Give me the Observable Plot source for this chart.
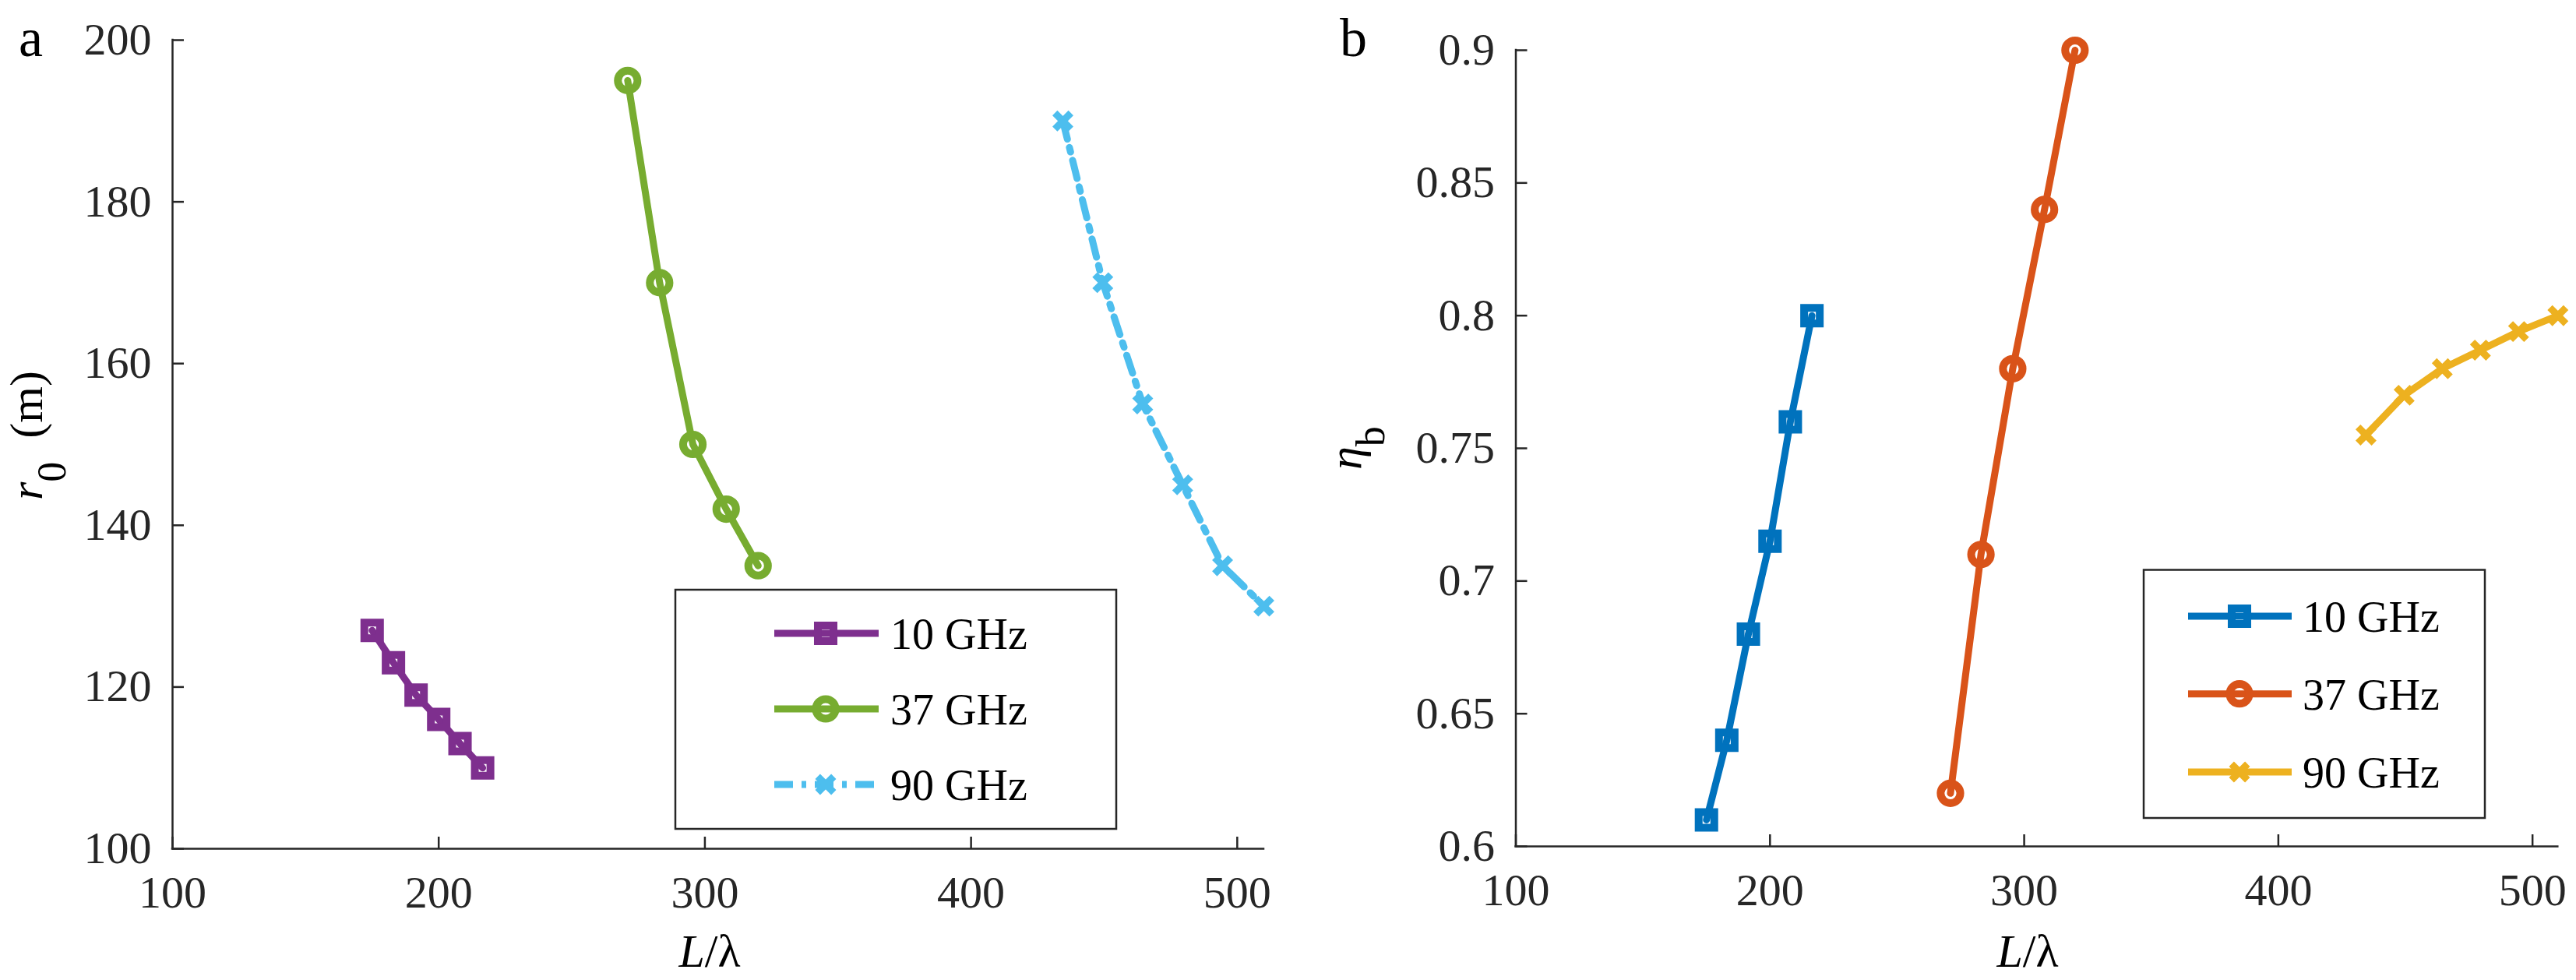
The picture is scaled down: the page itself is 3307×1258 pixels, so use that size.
<!DOCTYPE html>
<html>
<head>
<meta charset="utf-8">
<script src="https://cdn.jsdelivr.net/npm/d3@7"></script>
<script src="https://cdn.jsdelivr.net/npm/@observablehq/plot@0.6"></script>
<style>
  html, body { margin: 0; padding: 0; background: #fff; }
  #wrap { position: relative; width: 3307px; height: 1258px; overflow: hidden; background: #fff; }
  #wrap svg { position: absolute; left: 0; top: 0; }
  #wrap svg, #wrap svg text {
    font-family: 'Liberation Serif', 'Times New Roman', Times, 'Nimbus Roman', 'Nimbus Roman No9 L',
                 'FreeSerif', 'Noto Serif', 'DejaVu Serif', 'Noto Serif CJK SC', serif !important; }
</style>
</head>
<body>
<div id="wrap"></div>
<script>
// ---------- data ----------
const seriesNames = ["10 GHz", "37 GHz", "90 GHz"];
const xTicks = [100, 200, 300, 400, 500];
const r0Ticks = [100, 120, 140, 160, 180, 200];
const etaTicks = [0.6, 0.65, 0.7, 0.75, 0.8, 0.85, 0.9];

const L10 = [175, 183, 191.5, 200, 208, 216.5];
const L37 = [271, 283, 295.5, 308, 320];
const L90 = [434.5, 449.5, 464.5, 479.5, 494.5, 510];

const r0_10 = [127, 123, 119, 116, 113, 110];
const r0_37 = [195, 170, 150, 142, 135];
const r0_90 = [190, 170, 155, 145, 135, 130];

const eta_10 = [0.61, 0.64, 0.68, 0.715, 0.76, 0.80];
const eta_37 = [0.62, 0.71, 0.78, 0.84, 0.90];
const eta_90 = [0.755, 0.77, 0.78, 0.787, 0.794, 0.80];

const colorsA = ["#7E2F8E", "#77AC30", "#4DBEEE"];
const colorsB = ["#0072BD", "#D95319", "#EDB120"];

// ---------- styles ----------
const W = 3307, H = 1258;
const AX = "#262626";
const symbols = ["square", "circle", "times"];
const symR = [11.3, 12.6, 9.4];
const symSW = [10, 10, 9];
const LW = 9;
const DASH = "24,11,6,11";

const Ls = [L10, L37, L90];

function makePanel({ml, mr, mt, mb, yDomain, yTicks, ys, colors, dashes}) {
  const plotH = H - mt - mb, plotW = W - ml - mr;
  const marks = [
    Plot.ruleY([yDomain[0]], {stroke: AX, strokeWidth: 2.5, strokeLinecap: "square"}),
    Plot.ruleX([xTicks[0]], {stroke: AX, strokeWidth: 2.5, strokeLinecap: "square"}),
    Plot.tickX(xTicks, {x: d => d, insetTop: plotH - 15, stroke: AX, strokeWidth: 2.5}),
    Plot.tickY(yTicks, {y: d => d, insetRight: plotW - 15, stroke: AX, strokeWidth: 2.5}),
    Plot.axisX({ticks: xTicks, tickSize: 0, tickPadding: 34, fontSize: 58, label: null,
                fill: AX, tickFormat: d => String(d)}),
    Plot.axisY({ticks: yTicks, tickSize: 0, tickPadding: 27, fontSize: 58, label: null,
                fill: AX, tickFormat: d => String(d)})
  ];
  for (let i = 0; i < 3; i++) {
    const data = Ls[i].map((x, j) => ({x, y: ys[i][j]}));
    marks.push(Plot.line(data, {x: "x", y: "y", stroke: colors[i], strokeWidth: LW,
      strokeDasharray: dashes[i], strokeLinejoin: "round"}));
    marks.push(Plot.dot(data, {x: "x", y: "y", symbol: symbols[i], r: symR[i],
      stroke: colors[i], strokeWidth: symSW[i], fill: "none"}));
  }
  return Plot.plot({
    width: W, height: H,
    marginLeft: ml, marginRight: mr, marginTop: mt, marginBottom: mb,
    x: {type: "linear", domain: [100, 510]},
    y: {type: "linear", domain: yDomain},
    style: {fontSize: "58px", background: "transparent", color: AX, overflow: "visible"},
    marks
  });
}

const svgA = makePanel({ml: 221, mr: W - 1622, mt: 51, mb: H - 1089,
  yDomain: [100, 200], yTicks: r0Ticks, ys: [r0_10, r0_37, r0_90], colors: colorsA,
  dashes: [undefined, undefined, DASH]});
const svgB = makePanel({ml: 1945.5, mr: W - 3283.3, mt: 64, mb: H - 1086,
  yDomain: [0.6, 0.9], yTicks: etaTicks, ys: [eta_10, eta_37, eta_90], colors: colorsB,
  dashes: [undefined, undefined, undefined]});

const wrap = document.getElementById("wrap");
wrap.appendChild(svgA);
wrap.appendChild(svgB);

// ---------- legends ----------
function legend(svg, box, rows, lineX, markX, textX, colors, dashes) {
  const g = d3.select(svg).append("g");
  g.append("rect").attr("x", box[0]).attr("y", box[1])
    .attr("width", box[2] - box[0]).attr("height", box[3] - box[1])
    .attr("fill", "#fff").attr("stroke", AX).attr("stroke-width", 2.5);
  rows.forEach((yy, i) => {
    g.append("line").attr("x1", lineX[0]).attr("x2", lineX[1]).attr("y1", yy).attr("y2", yy)
      .attr("stroke", colors[i]).attr("stroke-width", LW)
      .attr("stroke-dasharray", dashes[i] || null);
    const size = Math.PI * symR[i] * symR[i];
    if (symbols[i] === "circle") {
      g.append("circle").attr("cx", markX).attr("cy", yy).attr("r", symR[i])
        .attr("fill", "none").attr("stroke", colors[i]).attr("stroke-width", symSW[i]);
    } else {
      const type = symbols[i] === "square" ? d3.symbolSquare : d3.symbolTimes;
      g.append("path").attr("d", d3.symbol(type, size)())
        .attr("transform", `translate(${markX},${yy})`)
        .attr("fill", "none").attr("stroke", colors[i]).attr("stroke-width", symSW[i]);
    }
    g.append("text").attr("x", textX).attr("y", yy + 20)
      .attr("text-anchor", "start").attr("font-size", 56).attr("fill", "#000")
      .text(seriesNames[i]);
  });
}
legend(svgA, [867, 757, 1433, 1064], [813, 910, 1007], [994, 1128], 1060, 1143, colorsA,
  [null, null, DASH]);
legend(svgB, [2752, 731.5, 3190, 1050], [791, 890.7, 991], [2809, 2942], 2875, 2956, colorsB,
  [null, null, null]);

// ---------- axis titles and panel letters ----------
const sa = d3.select(svgA), sb = d3.select(svgB);
function txt(sel, x, y, size, anchor) {
  return sel.append("text").attr("x", x).attr("y", y)
    .attr("text-anchor", anchor || "start")
    .attr("font-size", size).attr("fill", "#000");
}
txt(sa, 24, 72, 70).text("a");
txt(sb, 1720, 72, 70).text("b");

// x labels
function xlabel(sel, cx) {
  const t = txt(sel, cx, 1241, 60, "middle");
  t.append("tspan").attr("font-style", "italic").text("L");
  t.append("tspan").text("/λ");
}
xlabel(sa, 911);
xlabel(sb, 2603);

// y label a: r0 (m)
{
  const t = sa.append("text").attr("transform", "translate(54,559) rotate(-90)")
    .attr("text-anchor", "middle").attr("font-size", 60).attr("fill", "#000");
  t.append("tspan").attr("font-style", "italic").text("r");
  t.append("tspan").attr("font-size", 52).attr("dy", 30).text("0");
  t.append("tspan").attr("dy", -30).text("\u00a0 (m)");
}
// y label b: eta_b
{
  const t = sb.append("text").attr("transform", "translate(1747,575) rotate(-90)")
    .attr("text-anchor", "middle").attr("font-size", 60).attr("fill", "#000");
  t.append("tspan").attr("font-style", "italic").text("η");
  t.append("tspan").attr("font-size", 52).attr("dy", 30).text("b");
}
</script>
</body>
</html>
